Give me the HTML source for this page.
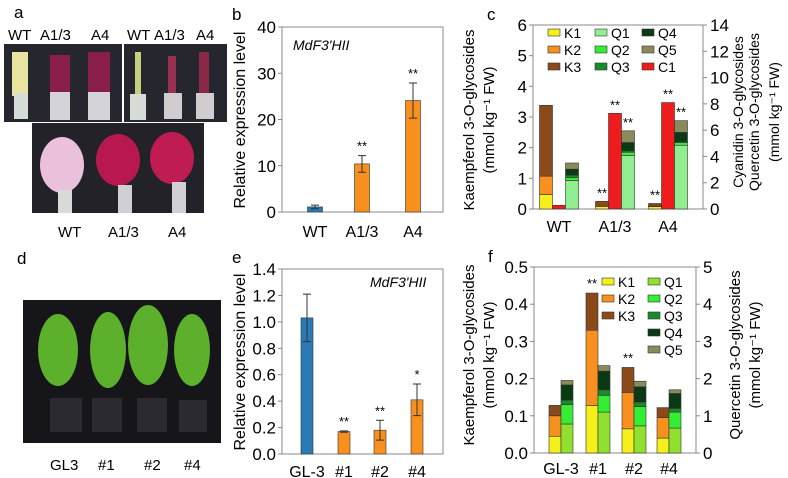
<!DOCTYPE html>
<html><head><meta charset="utf-8"><style>
body{margin:0;background:#fff;width:788px;height:478px;overflow:hidden}
svg{display:block;font-family:"Liberation Sans",sans-serif}
</style></head><body>
<svg id="fig" width="788" height="478" viewBox="0 0 788 478">
<g>
<text x="14" y="18" font-size="17">a</text>
<text x="8" y="40" font-size="15">WT</text>
<text x="40" y="40" font-size="15">A1/3</text>
<text x="91" y="40" font-size="15">A4</text>
<text x="127" y="40" font-size="15">WT</text>
<text x="154" y="40" font-size="15">A1/3</text>
<text x="196" y="40" font-size="15">A4</text>
<rect x="4" y="44" width="118" height="78" fill="#26262e"/>
<rect x="124" y="44" width="103" height="78" fill="#26262e"/>
<rect x="12" y="52" width="16" height="44" fill="#e8e4a0"/>
<rect x="14" y="93" width="14" height="26" fill="#d8dcd8"/>
<rect x="50" y="55" width="20" height="38" fill="#8a1e4a"/>
<rect x="50" y="92" width="20" height="28" fill="#d4d4d8"/>
<rect x="88" y="52" width="22" height="42" fill="#8a1e4a"/>
<rect x="88" y="92" width="22" height="28" fill="#d4d4d8"/>
<rect x="135" y="52" width="6" height="44" fill="#c8d080"/>
<rect x="130" y="94" width="16" height="26" fill="#d8dcd8"/>
<rect x="168" y="56" width="8" height="38" fill="#9a3050"/>
<rect x="164" y="93" width="18" height="26" fill="#d0ccd0"/>
<rect x="199" y="52" width="10" height="42" fill="#8a2848"/>
<rect x="196" y="93" width="18" height="26" fill="#d0ccd0"/>
<rect x="32" y="123" width="172" height="90" fill="#222228"/>
<ellipse cx="62" cy="165" rx="22" ry="28" fill="#eac0da"/>
<ellipse cx="118" cy="160" rx="22" ry="26" fill="#b81850"/>
<ellipse cx="172" cy="158" rx="22" ry="26" fill="#c01c54"/>
<rect x="58" y="190" width="14" height="23" fill="#d8dcd8"/>
<rect x="118" y="185" width="14" height="28" fill="#d0d0d4"/>
<rect x="172" y="182" width="14" height="31" fill="#d0d0d4"/>
<text x="58" y="237" font-size="15">WT</text>
<text x="108" y="237" font-size="15">A1/3</text>
<text x="168" y="237" font-size="15">A4</text>
</g>
<g>
<text x="17" y="264" font-size="17">d</text>
<rect x="23" y="300" width="198" height="143" fill="#16161a"/>
<g fill="#5cb02c">
<ellipse cx="58" cy="350" rx="20" ry="36"/><ellipse cx="108" cy="350" rx="18" ry="38"/><ellipse cx="148" cy="345" rx="20" ry="40"/><ellipse cx="192" cy="350" rx="18" ry="36"/>
</g>
<g fill="#2a2a30">
<rect x="50" y="398" width="32" height="34"/><rect x="92" y="398" width="30" height="34"/><rect x="137" y="398" width="30" height="34"/><rect x="179" y="400" width="28" height="32"/>
</g>
<text x="50" y="470" font-size="15">GL3</text>
<text x="98" y="470" font-size="15">#1</text>
<text x="144" y="470" font-size="15">#2</text>
<text x="184" y="470" font-size="15">#4</text>
</g>
<g id="charts"></g>
</svg>
<script>
const bCats=["WT","A1/3","A4"];
const bVals=[1.1,10.4,24.1];
const bErr=[0.4,1.8,3.8];
const bSig=["","**","**"];
const bTicks=[0,10,20,30,40];
const eCats=["GL-3","#1","#2","#4"];
const eVals=[1.03,0.17,0.18,0.41];
const eErr=[0.18,0.005,0.075,0.12];
const eSig=["","**","**","*"];
const eTicks=["0.0","0.2","0.4","0.6","0.8","1.0","1.2","1.4"];
const cCats=["WT","A1/3","A4"];
const cK1=[0.47,0.08,0.08];
const cK2=[0.60,0.04,0.02];
const cK3=[2.31,0.13,0.08];
const cC1=[0.28,7.28,8.1];
const cQ1=[2.17,4.08,4.85];
const cQ2=[0.21,0.24,0.21];
const cQ3=[0.19,0.11,0.07];
const cQ4=[0.46,0.63,0.70];
const cQ5=[0.47,0.89,0.89];
const cSigK=["","**","**"];
const cSigC=["","**","**"];
const cSigQ=["","**","**"];
const cLeftTicks=[0,1,2,3,4,5,6];
const cRightTicks=[0,2,4,6,8,10,12,14];
const fCats=["GL-3","#1","#2","#4"];
const fK1=[0.045,0.128,0.065,0.04];
const fK2=[0.055,0.202,0.098,0.055];
const fK3=[0.028,0.1,0.067,0.027];
const fQ1=[0.78,1.1,0.73,0.67];
const fQ2=[0.52,0.45,0.52,0.43];
const fQ3=[0.12,0.15,0.12,0.10];
const fQ4=[0.41,0.5,0.41,0.40];
const fQ5=[0.12,0.15,0.15,0.10];
const fSigK=["","**","**",""];
const fLeftTicks=["0.0","0.1","0.2","0.3","0.4","0.5"];
const fRightTicks=[0,1,2,3,4,5];

const NS="http://www.w3.org/2000/svg";
const root=document.getElementById('charts');
function mk(tag,attrs,parent,text){const e=document.createElementNS(NS,tag);for(const k in attrs)e.setAttribute(k,attrs[k]);if(text!==undefined)e.textContent=text;(parent||root).appendChild(e);return e;}
function scale(d0,d1,r0,r1){return v=>r0+(v-d0)/(d1-d0)*(r1-r0);}
function frame(g,x0,x1,yT,yB){
  const r=mk('rect',{x:x0,y:yT,width:x1-x0,height:yB-yT,fill:'none',stroke:'#888','stroke-width':1},g);
  
  
}
function yTicks(g,ticks,y,x,side){
  ticks.forEach(t=>{const yy=y(+t);
    const l=mk('line',{x1:x,x2:side<0?x-4:x+4,y1:yy,y2:yy,stroke:'#888'},g);
    
    
    const tx=mk('text',{x:side<0?x-6:x+7,y:yy+6,'font-size':17,'text-anchor':side<0?'end':'start'},g,String(t));
    
    
  });
}
function vlabel(g,x,y,txt,size,name){
  const t=mk('text',{x:x,y:y,'font-size':size,'text-anchor':'middle',transform:`rotate(-90 ${x} ${y})`},g,txt);
  
  
  return t;
}
function rect(g,x,y0,y1,w,fill,name){
  const r=mk('rect',{x:x-w/2,y:Math.min(y0,y1),width:w,height:Math.abs(y1-y0),fill:fill,stroke:'#333','stroke-width':0.6},g);
  
  
}
function txt(g,x,y,s,size,name,anchor,style){
  const t=mk('text',{x:x,y:y,'font-size':size,'text-anchor':anchor||'middle','font-style':style||'normal'},g,s);
  
  
}
function expr(name,cats,vals,err,sig,ticks,ymax,x0,x1,yT,yB,centers,w,colors,catY,panel,label,labY){
  const g=mk('g',{});
  
  
  const y=scale(0,ymax,yB,yT);
  frame(g,x0,x1,yT,yB);
  yTicks(g,ticks,y,x0,-1);
  vals.forEach((v,i)=>{
    rect(g,centers[i],y(0),y(v),w,colors[i],'bar-'+cats[i]);
    const e=mk('path',{d:`M${centers[i]} ${y(v-err[i])}V${y(v+err[i])}M${centers[i]-4} ${y(v+err[i])}h8M${centers[i]-4} ${y(v-err[i])}h8`,stroke:'#333',fill:'none'},g);
    
    
    if(sig[i])txt(g,centers[i],y(v+err[i])-5,sig[i],13,'significance-mark');
    txt(g,centers[i],catY,cats[i],16,'x-tick-label');
  });
  txt(g,panel[1],panel[2],panel[0],17,'panel-label','start');
  txt(g,label[0],label[1],'MdF3\'HII',14,'gene-label','start','italic');
  vlabel(g,labY[0],labY[1],'Relative expression level',16,'y-axis-title');
}
expr('panel-b',bCats,bVals,bErr,bSig,bTicks,40,282,443,27,212,[315,362,413],15,['#2a7ab8','#f7901e','#f7901e'],237,['b',232,20],[293,50],[245,120]);
expr('panel-e',eCats,eVals,eErr,eSig,eTicks,1.4,282,443,269,454,[307,344,380,417],12,['#2a7ab8','#f7901e','#f7901e','#f7901e'],477,['e',232,263],[370,287],[245,362]);

const KC=['#f5f01a','#f7901e','#8a4a1a'];
const QCc=['#90ee90','#33ee33','#1a8a2a','#0a3a14','#8a8a5a'];
const QCf=['#90e030','#33ee33','#1a8a2a','#0a3a14','#8a8a5a'];
function stack(g,x,y,arrs,i,cols,w,pref){
  let acc=0;arrs.forEach((a,k)=>{rect(g,x,y(acc),y(acc+a[i]),w,cols[k],pref+(k+1));acc+=a[i];});return acc;
}
(function(){
  const g=mk('g',{});
  
  
  const x0=533,x1=703,yT=25,yB=209;
  const yl=scale(0,6,yB,yT),yr=scale(0,14,yB,yT);
  frame(g,x0,x1,yT,yB);
  yTicks(g,cLeftTicks,yl,x0,-1);yTicks(g,cRightTicks,yr,x1,1);
  const cx=[559,615,668];
  cCats.forEach((c,i)=>{
    const kt=stack(g,cx[i]-13,yl,[cK1,cK2,cK3],i,KC,13,'bar-'+c+'-K');
    rect(g,cx[i],yr(0),yr(cC1[i]),13,'#ee1c1c','bar-'+c+'-C1');
    const qt=stack(g,cx[i]+13,yr,[cQ1,cQ2,cQ3,cQ4,cQ5],i,QCc,13,'bar-'+c+'-Q');
    if(cSigK[i])txt(g,cx[i]-13,yl(kt)-4,cSigK[i],13,'significance-mark');
    if(cSigC[i])txt(g,cx[i],yr(cC1[i])-4,cSigC[i],13,'significance-mark');
    if(cSigQ[i])txt(g,cx[i]+13,yr(qt)-4,cSigQ[i],13,'significance-mark');
    txt(g,cx[i],232,c,16,'x-tick-label');
  });
  const leg=[['K1',KC[0]],['Q1',QCc[0]],['Q4',QCc[3]],['K2',KC[1]],['Q2',QCc[1]],['Q5',QCc[4]],['K3',KC[2]],['Q3',QCc[2]],['C1','#ee1c1c']];
  leg.forEach((l,j)=>{const lx=548+(j%3)*47,ly=33+Math.floor(j/3)*17;
    const r=mk('rect',{x:lx,y:ly-4,width:12,height:7,fill:l[1],stroke:'#333','stroke-width':0.6},g);
    
    
    txt(g,lx+16,ly+5,l[0],14,'legend-entry-'+l[0],'start');});
  txt(g,487,20,'c',17,'panel-label','start');
  vlabel(g,474,120,'Kaempferol 3-O-glycosides',15,'left-axis-title');
  vlabel(g,494,120,'(mmol kg\u207B\u00B9 FW)',15,'left-axis-unit');
  vlabel(g,743,112,'Cyanidin 3-O-glycosides',14,'right-axis-title-1');
  vlabel(g,759,112,'Quercetin 3-O-glycosides',14,'right-axis-title-2');
  vlabel(g,779,112,'(mmol kg\u207B\u00B9 FW)',14,'right-axis-unit');
})();
(function(){
  const g=mk('g',{});
  
  
  const x0=534,x1=696,yT=267,yB=453;
  const yl=scale(0,0.5,yB,yT),yr=scale(0,5,yB,yT);
  frame(g,x0,x1,yT,yB);
  yTicks(g,fLeftTicks,yl,x0,-1);yTicks(g,fRightTicks,yr,x1,1);
  const cx=[561,598,634,669];
  fCats.forEach((c,i)=>{
    const kt=stack(g,cx[i]-6,yl,[fK1,fK2,fK3],i,KC,12,'bar-'+c+'-K');
    stack(g,cx[i]+6,yr,[fQ1,fQ2,fQ3,fQ4,fQ5],i,QCf,12,'bar-'+c+'-Q');
    if(fSigK[i])txt(g,cx[i]-6,yl(kt)-5,fSigK[i],13,'significance-mark');
    txt(g,cx[i],474,c,16,'x-tick-label');
  });
  const leg=[['K1',KC[0],0,0],['K2',KC[1],0,1],['K3',KC[2],0,2],['Q1',QCf[0],1,0],['Q2',QCf[1],1,1],['Q3',QCf[2],1,2],['Q4',QCf[3],1,3],['Q5',QCf[4],1,4]];
  leg.forEach(l=>{const lx=602+l[2]*46,ly=282+l[3]*17;
    const r=mk('rect',{x:lx,y:ly-4,width:12,height:7,fill:l[1],stroke:'#333','stroke-width':0.6},g);
    
    
    txt(g,lx+16,ly+5,l[0],14,'legend-entry-'+l[0],'start');});
  txt(g,488,262,'f',17,'panel-label','start');
  vlabel(g,474,355,'Kaempferol 3-O-glycosides',15,'left-axis-title');
  vlabel(g,494,355,'(mmol kg\u207B\u00B9 FW)',15,'left-axis-unit');
  vlabel(g,740,355,'Quercetin 3-O-glycosides',15,'right-axis-title');
  vlabel(g,760,355,'(mmol kg\u207B\u00B9 FW)',15,'right-axis-unit');
})();
</script>
</body></html>
